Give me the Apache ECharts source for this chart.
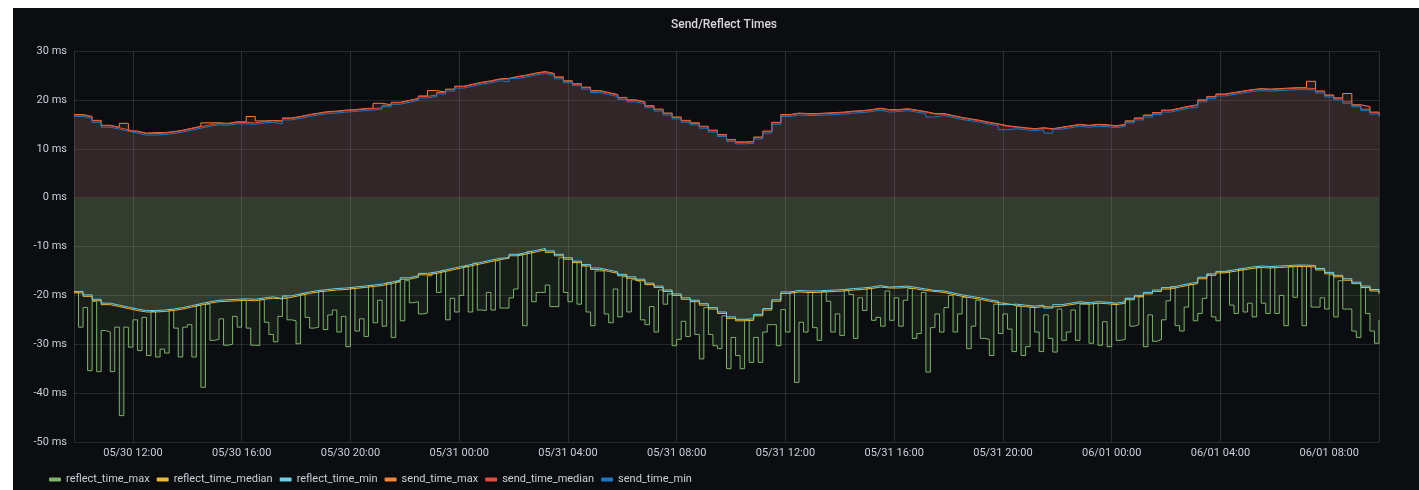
<!DOCTYPE html>
<html>
<head>
<meta charset="utf-8">
<title>Send/Reflect Times</title>
<script src="https://cdn.jsdelivr.net/npm/echarts@6/dist/echarts.min.js"></script>
<style>
  html, body { margin: 0; padding: 0; background: #ffffff; }
  #panel { position: absolute; left: 13px; top: 8px; width: 1406px; height: 482px; background: #0c0d10; }
  #chart { position: absolute; left: 0; top: 0; width: 1419px; height: 490px; }
</style>
</head>
<body>
<div id="panel"></div>
<div id="chart"></div>
<script>
// time range: 48h starting 05/30 09:50
var startTime = new Date(2021, 4, 30, 9, 50).getTime();
var endTime = startTime + 48 * 3600 * 1000;
var smoothStepMin = 20;   // send_* / reflect min,median samples
var spikyStepMin = 10;    // reflect_time_max samples

var seriesNames = ['reflect_time_max', 'reflect_time_median', 'reflect_time_min',
                   'send_time_max', 'send_time_median', 'send_time_min'];
var seriesColors = ['#7EB26D', '#EAB839', '#6ED0E0', '#EF843C', '#E24D42', '#1F78C1'];

var yMin = -50, yMax = 30, yStep = 10;

var send_time_min = [
  16.6,16.2,15.4,14.4,14.0,13.6,13.2,12.8,12.8,12.9,
  13.1,13.4,13.8,14.2,14.6,14.9,14.8,15.1,15.1,15.0,
  15.3,15.4,15.1,15.9,16.2,16.6,16.9,17.2,17.3,17.5,
  17.6,17.8,17.9,18.1,18.6,19.1,19.5,19.9,20.4,20.7,
  21.2,21.8,22.4,22.8,23.2,23.5,23.9,23.7,24.4,24.7,
  25.1,25.4,25.0,24.3,23.5,22.9,22.2,21.5,21.1,20.7,
  20.1,19.6,19.2,18.4,17.7,16.9,16.1,15.4,14.9,14.2,
  13.4,12.5,11.5,11.0,11.1,12.0,13.2,15.0,16.6,16.9,
  16.8,16.8,16.9,17.0,17.1,17.3,17.4,17.6,17.9,17.5,
  17.6,17.8,17.5,17.2,16.5,16.8,16.4,16.0,15.7,15.4,
  15.0,14.7,13.9,14.1,13.9,13.7,13.9,13.2,14.0,14.3,
  14.6,14.4,14.6,14.5,14.3,14.6,15.3,15.9,16.5,17.0,
  17.5,17.9,18.3,18.5,19.6,20.3,20.8,21.1,21.4,21.7,
  21.9,21.8,21.9,22.0,22.1,22.1,22.0,21.4,20.6,20.0,
  19.3,18.6,17.8,17.1,16.5
];

var send_time_median = [
  16.9,16.5,15.7,14.7,14.3,13.9,13.5,13.1,13.1,13.2,
  13.4,13.7,14.1,14.5,14.9,15.2,15.1,15.4,15.4,15.3,
  15.6,15.7,15.6,16.2,16.5,16.9,17.2,17.5,17.6,17.8,
  17.9,18.1,18.2,18.4,18.9,19.4,19.8,20.2,20.7,21.0,
  21.5,22.1,22.7,23.1,23.5,23.8,24.2,24.3,24.7,25.0,
  25.4,25.7,25.3,24.6,23.8,23.2,22.5,21.8,21.4,21.0,
  20.4,19.9,19.5,18.7,18.0,17.2,16.4,15.7,15.2,14.5,
  13.7,12.8,11.8,11.3,11.4,12.3,13.5,15.3,16.9,17.2,
  17.1,17.1,17.2,17.3,17.4,17.6,17.7,17.9,18.2,17.9,
  17.9,18.1,17.8,17.5,17.1,17.1,16.7,16.3,16.0,15.7,
  15.3,15.0,14.6,14.4,14.2,14.0,14.2,14.0,14.3,14.6,
  14.9,14.7,14.9,14.8,14.6,14.9,15.6,16.2,16.8,17.3,
  17.8,18.2,18.6,18.9,19.9,20.6,21.1,21.4,21.7,22.0,
  22.2,22.1,22.2,22.3,22.4,22.4,22.3,21.7,20.9,20.3,
  19.6,18.9,18.1,17.4,16.8
];

var send_time_max = [
  17.0,16.6,15.8,14.8,14.4,15.2,13.6,13.2,13.3,13.3,
  13.5,13.8,14.2,14.6,15.3,15.3,15.2,15.5,15.5,16.6,
  15.7,15.8,15.7,16.3,16.6,17.0,17.3,17.6,17.7,17.9,
  18.0,18.2,18.3,19.3,19.0,19.5,19.9,20.3,20.8,21.9,
  21.6,22.2,22.8,23.2,23.6,23.9,24.3,24.4,24.8,25.1,
  25.5,25.8,25.4,24.7,23.9,23.3,22.6,21.9,21.5,21.1,
  20.5,20.0,19.6,18.8,18.1,17.3,16.5,15.8,15.3,14.6,
  13.8,12.9,11.9,11.4,11.5,12.4,13.6,15.4,17.0,17.3,
  17.2,17.2,17.3,17.4,17.5,17.7,17.8,18.0,18.3,18.0,
  18.0,18.2,17.9,17.6,17.2,17.2,16.8,16.4,16.1,15.8,
  15.4,15.1,14.7,14.5,14.3,14.1,14.3,14.1,14.4,14.7,
  15.0,14.8,15.0,14.9,14.7,15.0,15.7,16.3,16.9,17.4,
  17.9,18.3,18.7,19.0,20.0,20.7,21.2,21.5,21.8,22.1,
  22.3,22.2,22.3,22.4,22.5,22.5,23.8,21.8,21.0,20.4,
  21.3,19.0,18.6,17.5,16.9
];

var reflect_time_min = [
  -19.2,-19.9,-20.8,-21.6,-22.0,-22.4,-22.8,-23.1,-23.1,-23.0,
  -22.8,-22.5,-22.1,-21.7,-21.3,-21.0,-20.9,-20.8,-20.7,-20.8,
  -20.5,-20.3,-20.7,-20.1,-19.7,-19.3,-19.0,-18.8,-18.6,-18.5,
  -18.3,-18.1,-17.9,-17.7,-17.3,-16.9,-16.4,-16.0,-15.5,-15.2,
  -14.8,-14.4,-14.0,-13.6,-13.2,-12.8,-12.4,-12.3,-11.6,-11.2,
  -10.8,-10.4,-10.9,-11.6,-12.3,-13.0,-13.7,-14.4,-14.8,-15.2,
  -15.7,-16.2,-16.7,-17.5,-18.1,-18.9,-19.7,-20.5,-21.0,-21.7,
  -22.5,-23.4,-24.4,-24.9,-24.8,-23.9,-22.7,-20.9,-19.3,-19.0,
  -19.1,-19.1,-19.0,-18.9,-18.8,-18.6,-18.5,-18.3,-18.0,-18.3,
  -18.2,-18.1,-18.4,-18.7,-19.0,-19.1,-19.5,-19.9,-20.2,-20.5,
  -20.9,-21.2,-21.9,-21.8,-22.0,-22.2,-22.0,-22.6,-21.9,-21.6,
  -21.3,-21.5,-21.3,-21.4,-21.6,-21.3,-20.6,-20.0,-19.4,-18.9,
  -18.4,-18.0,-17.6,-17.3,-16.3,-15.6,-15.1,-14.8,-14.5,-14.2,
  -14.0,-14.1,-14.0,-13.9,-13.8,-13.8,-13.9,-14.5,-15.3,-15.9,
  -16.6,-17.3,-18.1,-18.8,-19.4
];

var reflect_time_median = [
  -19.5,-20.2,-21.1,-21.9,-22.3,-22.7,-23.1,-23.4,-23.4,-23.3,
  -23.1,-22.8,-22.4,-22.0,-21.6,-21.3,-21.2,-21.1,-21.0,-21.1,
  -20.8,-20.6,-20.7,-20.4,-20.0,-19.6,-19.3,-19.1,-18.9,-18.8,
  -18.6,-18.4,-18.2,-18.0,-17.6,-17.2,-16.7,-16.3,-15.8,-15.5,
  -15.1,-14.7,-14.3,-13.9,-13.5,-13.1,-12.7,-12.4,-11.9,-11.5,
  -11.1,-10.7,-11.2,-11.9,-12.6,-13.3,-14.0,-14.7,-15.1,-15.5,
  -16.0,-16.5,-17.0,-17.8,-18.4,-19.2,-20.0,-20.8,-21.3,-22.0,
  -22.8,-23.7,-24.7,-25.2,-25.1,-24.2,-23.0,-21.2,-19.6,-19.3,
  -19.4,-19.4,-19.3,-19.2,-19.1,-18.9,-18.8,-18.6,-18.3,-18.5,
  -18.5,-18.4,-18.7,-19.0,-19.2,-19.4,-19.8,-20.2,-20.5,-20.8,
  -21.2,-21.5,-21.7,-22.1,-22.3,-22.5,-22.3,-22.4,-22.2,-21.9,
  -21.6,-21.8,-21.6,-21.7,-21.9,-21.6,-20.9,-20.3,-19.7,-19.2,
  -18.7,-18.3,-17.9,-17.6,-16.6,-15.9,-15.4,-15.1,-14.8,-14.5,
  -14.3,-14.4,-14.3,-14.2,-14.1,-14.1,-14.2,-14.8,-15.6,-16.2,
  -16.9,-17.6,-18.4,-19.1,-19.7
];

var reflect_time_max = [
  -19.3,-26.5,-22.5,-35.4,-21.2,-35.6,-27.2,-27.5,-35.6,-26.5,
  -44.6,-26.5,-30.6,-25.0,-31.3,-24.5,-32.3,-23.3,-32.6,-31.0,
  -31.8,-23.0,-26.7,-32.6,-26.5,-26.0,-32.6,-22.0,-38.8,-21.8,
  -29.2,-29.0,-24.8,-30.2,-30.0,-24.3,-26.5,-21.0,-26.7,-30.2,
  -30.3,-20.9,-25.5,-28.0,-29.5,-24.3,-20.3,-25.0,-25.2,-29.9,
  -19.7,-24.5,-26.7,-26.5,-19.1,-27.0,-24.0,-23.0,-27.5,-24.3,
  -30.5,-18.5,-27.3,-24.8,-28.4,-18.0,-25.6,-21.0,-26.3,-17.4,
  -28.6,-17.2,-25.2,-17.0,-21.5,-21.3,-23.8,-23.6,-16.0,-15.4,
  -19.4,-15.0,-25.0,-20.6,-23.4,-20.0,-14.1,-23.4,-13.4,-23.0,
  -23.1,-19.4,-23.0,-12.9,-22.6,-22.6,-20.5,-18.7,-11.6,-26.2,
  -11.0,-21.3,-19.4,-19.4,-17.9,-22.3,-22.3,-12.3,-19.4,-21.3,
  -13.2,-21.8,-13.8,-23.4,-26.2,-15.0,-15.0,-23.8,-25.6,-18.7,
  -24.4,-16.2,-23.4,-16.8,-17.2,-25.0,-26.0,-22.3,-27.5,-18.9,
  -21.8,-19.7,-30.3,-29.0,-25.3,-28.4,-21.2,-28.0,-33.0,-22.5,
  -28.0,-30.3,-30.9,-24.2,-35.0,-28.6,-32.3,-35.0,-25.0,-33.7,
  -28.6,-33.7,-27.5,-26.0,-26.0,-30.3,-22.9,-27.5,-19.3,-37.8,
  -25.5,-27.5,-19.4,-26.6,-29.2,-19.2,-21.2,-27.5,-23.8,-28.2,
  -18.9,-19.8,-28.8,-20.5,-23.1,-18.5,-25.1,-24.5,-26.3,-19.1,
  -25.1,-20.5,-26.3,-21.0,-18.6,-28.8,-27.8,-19.4,-35.7,-26.6,
  -23.8,-27.5,-22.5,-20.0,-27.5,-23.8,-20.4,-30.9,-26.3,-21.0,
  -28.8,-29.0,-32.3,-21.8,-27.8,-23.8,-26.9,-31.5,-22.2,-32.3,
  -30.5,-22.4,-27.5,-31.5,-24.0,-28.8,-31.6,-22.8,-29.2,-27.5,
  -23.0,-29.2,-21.8,-21.7,-29.8,-21.7,-30.2,-25.4,-30.5,-21.8,
  -29.2,-29.0,-20.6,-26.3,-26.0,-20.2,-30.5,-24.0,-29.4,-29.0,
  -25.0,-21.1,-18.2,-26.2,-27.3,-22.4,-17.8,-25.2,-23.7,-20.6,
  -15.8,-24.4,-25.2,-15.2,-14.9,-22.0,-23.7,-14.6,-23.4,-21.6,
  -24.4,-14.3,-21.6,-23.7,-14.2,-23.7,-20.0,-26.2,-14.1,-20.4,
  -14.0,-26.2,-14.1,-22.4,-22.4,-20.5,-22.8,-15.8,-24.4,-17.0,
  -22.8,-22.8,-27.3,-28.6,-18.4,-23.7,-27.3,-29.8,-25.0
];

/*
  values -> [time, value] pairs on a fixed sample step
*/
function toTimeData(values, stepMin) {
  return values.map(function(v, i) {
    return [startTime + i * stepMin * 60000, v];
  });
}

function pad(n) { return n < 10 ? '0' + n : '' + n; }

function timeLabel(val) {
  var d = new Date(val);
  return pad(d.getMonth() + 1) + '/' + pad(d.getDate()) + ' ' + pad(d.getHours()) + ':' + pad(d.getMinutes());
}

function lineSeries(name, color, values, stepMin) {
  return {
    name: name,
    type: 'line',
    step: 'end',
    showSymbol: false,
    symbol: 'none',
    animation: false,
    lineStyle: { color: color, width: 1 },
    itemStyle: { color: color },
    areaStyle: { color: color, opacity: 0.1 },
    data: toTimeData(values, stepMin)
  };
}

var chart = echarts.init(document.getElementById('chart'));

var option = {
  backgroundColor: 'transparent',
  animation: false,
  title: {
    text: 'Send/Reflect Times',
    left: 666,
    top: 14,
    textStyle: { color: '#d8d9da', fontSize: 12, fontWeight: 500, fontFamily: 'Roboto' }
  },
  legend: {
    data: seriesNames,
    left: 44,
    top: 469,
    icon: 'roundRect',
    itemWidth: 12,
    itemHeight: 4,
    itemGap: 7,
    textStyle: { color: '#c7d0d9', fontSize: 11, fontFamily: 'Roboto' }
  },
  grid: { left: 74, right: 40, top: 51, bottom: 48 },
  xAxis: {
    type: 'time',
    min: startTime,
    max: endTime,
    minInterval: 4 * 3600 * 1000,
    maxInterval: 4 * 3600 * 1000,
    axisLine: { show: false },
    axisTick: { show: false },
    splitLine: { show: true, lineStyle: { color: 'rgba(255,255,255,0.13)', width: 1 } },
    axisLabel: {
      color: '#c7d0d9',
      fontSize: 11,
      fontFamily: 'Roboto',
      margin: 6,
      hideOverlap: false,
      formatter: timeLabel
    }
  },
  yAxis: {
    type: 'value',
    min: yMin,
    max: yMax,
    interval: yStep,
    axisLine: { show: false },
    axisTick: { show: false },
    splitLine: { show: true, lineStyle: { color: 'rgba(255,255,255,0.11)', width: 1 } },
    axisLabel: {
      color: '#c7d0d9',
      fontSize: 11,
      fontFamily: 'Roboto',
      margin: 7,
      formatter: '{value} ms'
    }
  },
  series: [
    lineSeries(seriesNames[0], seriesColors[0], reflect_time_max, spikyStepMin),
    lineSeries(seriesNames[1], seriesColors[1], reflect_time_median, smoothStepMin),
    lineSeries(seriesNames[2], seriesColors[2], reflect_time_min, smoothStepMin),
    lineSeries(seriesNames[3], seriesColors[3], send_time_max, smoothStepMin),
    lineSeries(seriesNames[4], seriesColors[4], send_time_median, smoothStepMin),
    lineSeries(seriesNames[5], seriesColors[5], send_time_min, smoothStepMin)
  ]
};

chart.setOption(option);
</script>
</body>
</html>
